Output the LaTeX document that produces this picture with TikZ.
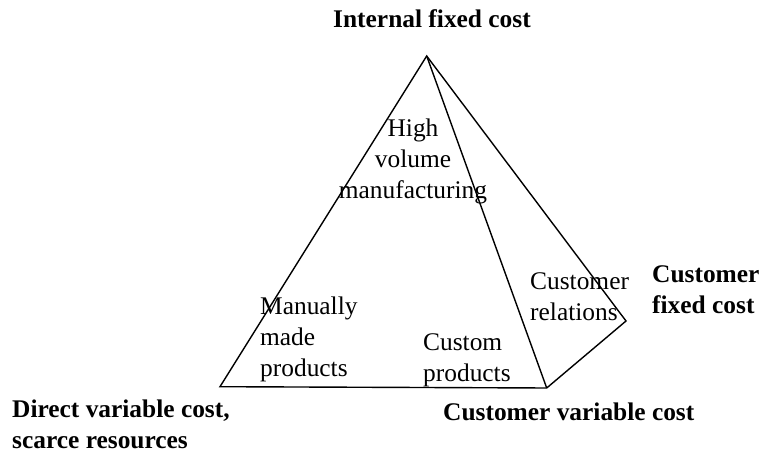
\documentclass[tikz,border=0pt]{standalone}
\usepackage{fontspec}
\setmainfont{Liberation Serif}
\usetikzlibrary{
    positioning,           % Relative positioning
    calc                   % Coordinate calculations
}

\begin{document}
\begin{tikzpicture}[x=1pt,y=1pt,
    edge/.style={line width=1.4pt,line join=miter},
    facelabel/.style={inner sep=0pt,font=\fontsize{25.4}{31}\selectfont},
    costlabel/.style={inner sep=0pt,font=\fontsize{25.4}{31}\selectfont\bfseries}]
    \useasboundingbox (0,0) rectangle (760,454);
    % corners of the pyramid
    \coordinate (apex) at (426.7,398);
    \coordinate (leftbase) at (220,67.3);
    \coordinate (frontbase) at (546.7,66);
    \coordinate (rightbase) at (626,133);
    % edges
    \draw[edge] (apex) -- (leftbase) -- (frontbase) -- (rightbase) -- cycle;
    \draw[edge] (apex) -- (frontbase);
    % labels on the faces
    \node[facelabel,align=center] (highvol) at (413,293) {High\\volume\\manufacturing};
    \node[facelabel,align=left,anchor=west] (manual) at (260,115) {Manually\\made\\products};
    \node[facelabel,align=left,anchor=west] (custom) at (423,94) {Custom\\products};
    \node[facelabel,align=left,anchor=west] (relations) at (530,157) {Customer\\relations};
    % cost labels at the corners
    \node[costlabel] (internal) at (432,435) {Internal fixed cost};
    \node[costlabel,align=left,anchor=west] (direct) at (12,30) {Direct variable cost,\\scarce resources};
    \node[costlabel,anchor=west] (custvar) at (443,42) {Customer variable cost};
    \node[costlabel,align=left,anchor=west] (custfix) at (652,164) {Customer\\fixed cost};
\end{tikzpicture}
\end{document}
